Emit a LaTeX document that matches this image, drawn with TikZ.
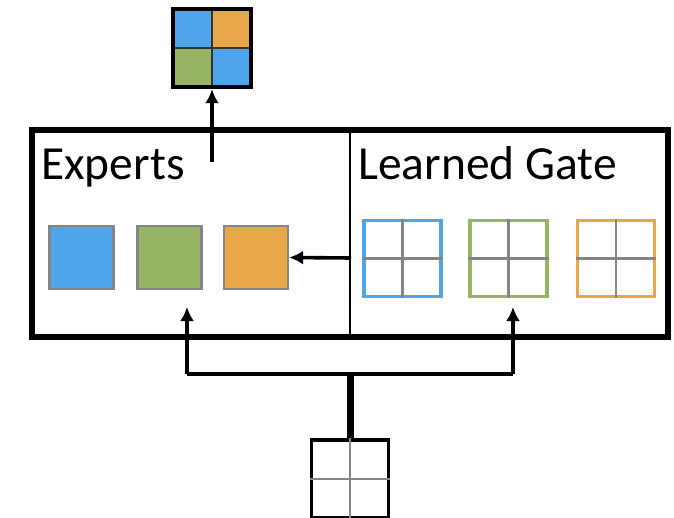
\documentclass[tikz,border=0pt]{standalone}
\usepackage{fontspec}
\setmainfont{Carlito}
\usetikzlibrary{arrows.meta}
\definecolor{cblue}{HTML}{4FA5EA}
\definecolor{cgreen}{HTML}{97B464}
\definecolor{corange}{HTML}{E9A847}
\definecolor{cgray}{HTML}{858585}
\tikzset{
  expert/.style={draw=cgray,line width=2.2pt,minimum width=64pt,minimum height=63pt,inner sep=0pt},
  gategrid/.style={line width=3.6pt,minimum width=77pt,minimum height=76pt,inner sep=0pt,fill=white},
  conn/.style={line width=3.6pt,-{Latex[length=14pt,width=14pt]}},
  lbl/.style={font=\fontsize{47.5}{52}\selectfont,inner sep=0pt,anchor=base west}
}
\begin{document}
\begin{tikzpicture}[x=1pt,y=-1pt]
\useasboundingbox (0,0) rectangle (674,518);
% main box
\draw[line width=5.5pt] (32,130) rectangle (668,337);
\draw[line width=1.8pt] (350,130) -- (350,337);
\node[lbl] (experts) at (41,180) {Experts};
\node[lbl] (gate) at (358,180) {Learned Gate};
% experts
\node[expert,fill=cblue] (e1) at (81.5,257.5) {};
\node[expert,fill=cgreen] (e2) at (169.5,257.5) {};
\node[expert,fill=corange] (e3) at (256,257.5) {};
% gate grids
\foreach \n/\c/\x in {g1/cblue/402.5, g2/cgreen/508.5, g3/corange/616}{
  \node[gategrid,draw=\c] (\n) at (\x,258.5) {};
  \draw[cgray,line width=2.4pt] (\n.north) -- (\n.south) (\n.west) -- (\n.east);
}
% output grid
\coordinate (o) at (212,48);
\fill[cblue] (173,9) rectangle (212,48);
\fill[corange] (212,9) rectangle (251,48);
\fill[cgreen] (173,48) rectangle (212,87);
\fill[cblue] (212,48) rectangle (251,87);
\draw[black!80,line width=1.8pt] (212,9) -- (212,87) (173,48) -- (251,48);
\node[draw,line width=4.5pt,minimum width=78pt,minimum height=78pt,inner sep=0pt] (out) at (o) {};
% input grid
\node[draw,line width=3.6pt,minimum width=77pt,minimum height=78pt,inner sep=0pt] (in) at (350,479) {};
\draw[cgray,line width=2.4pt] (in.north) -- (in.south) (in.west) -- (in.east);
% connectors
\coordinate (split) at (350,374);
\coordinate (outstart) at (212,162);
\coordinate (gatestart) at (351,258);
\coordinate (eleft) at (187,374);
\coordinate (gright) at (513,374);
\draw[conn] (outstart) -- (out.south);
\draw[conn] (gatestart) -- (e3.east);
\draw[line width=7pt] (in.north) -- (split);
\draw[line width=3.6pt] (eleft) -- (gright);
\draw[conn] (eleft) -- (187,307);
\draw[conn] (gright) -- (513,307);
\end{tikzpicture}
\end{document}
